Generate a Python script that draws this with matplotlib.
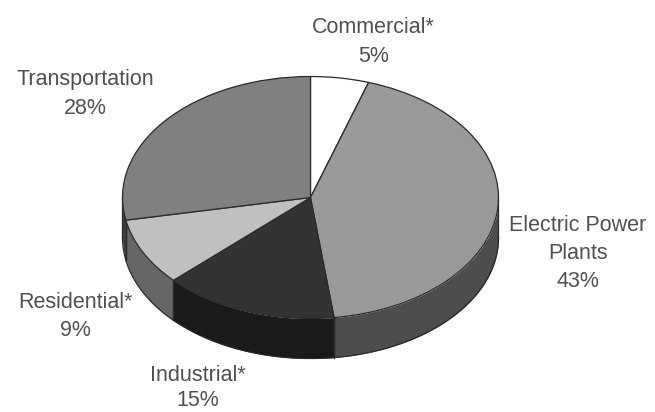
import numpy as np
import matplotlib
matplotlib.use("Agg")
import matplotlib.pyplot as plt

categories = ["Commercial*", "Electric Power\nPlants", "Industrial*", "Residential*", "Transportation"]
shares = [5, 43, 15, 9, 28]
top_colors = ["#ffffff", "#999999", "#333333", "#c0c0c0", "#808080"]
side_colors = ["#999999", "#4d4d4d", "#1a1a1a", "#666666", "#404040"]
label_px = [(373.5, 42), (578, 253.5), (198, 388), (75, 316.5), (85, 94)]
label_spacing = [1.45, 1.45, 1.28, 1.45, 1.45]

W, H = 655, 412
CX, CY, RX, RY, DEPTH = 310.5, 197.5, 188, 121, 40
EDGE = "#2a2a2a"
TEXT = "#505050"

fig = plt.figure(figsize=(W / 100, H / 100), dpi=100)
ax = fig.add_axes([0, 0, 1, 1])
depth = DEPTH / RY

# Side walls, drawn from each slice's angular span
bounds = np.cumsum([0] + shares) / sum(shares) * 2 * np.pi
for a0, a1, col in zip(bounds[:-1], bounds[1:], side_colors):
    lo, hi = max(a0, np.pi / 2), min(a1, 3 * np.pi / 2)
    if hi <= lo:
        continue
    th = np.linspace(lo, hi, 120)
    x, y = np.sin(th), np.cos(th)
    ax.fill_between(x, y, y - depth, color=col, lw=0, zorder=1)
    ax.plot(x, y - depth, color=EDGE, lw=0.9, zorder=2)
    for t in (lo, hi):
        ax.plot([np.sin(t)] * 2, [np.cos(t), np.cos(t) - depth], color=EDGE, lw=0.9, zorder=2)

# Top surface
wedges, _ = ax.pie(shares, colors=top_colors, startangle=90, counterclock=False, radius=1,
                   wedgeprops=dict(edgecolor=EDGE, linewidth=0.9, zorder=3))
ax.set_aspect("auto")
ax.set_xlim(-CX / RX, (W - CX) / RX)
ax.set_ylim(-(H - CY) / RY, CY / RY)
ax.axis("off")

for name, share, (px, py), ls in zip(categories, shares, label_px, label_spacing):
    fig.text(px / W, 1 - py / H, f"{name}\n{share}%", ha="center", va="center",
             family="Liberation Sans", fontsize=15.5, color=TEXT, linespacing=ls)

fig.savefig("out.png", dpi=100)
